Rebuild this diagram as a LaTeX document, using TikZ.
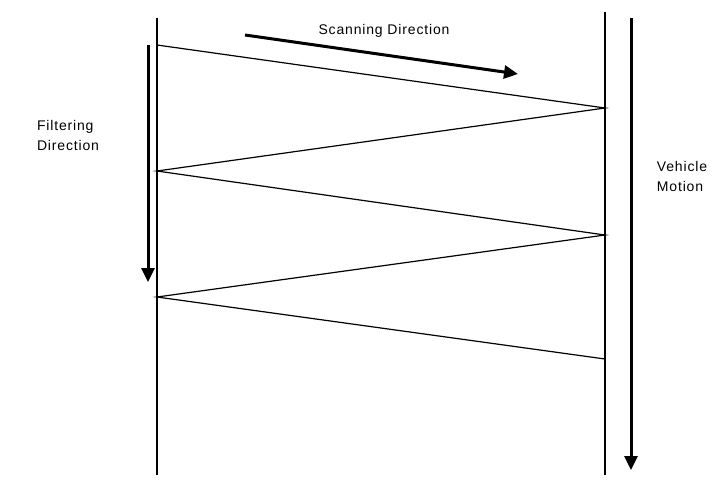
\documentclass[tikz,border=0pt]{standalone}
\usepackage{fontspec}
\setmainfont{Liberation Sans}[LetterSpace=6]
\usetikzlibrary{arrows.meta,positioning}

\begin{document}
\begin{tikzpicture}[
  x=1pt,y=-1pt,
  rail/.style={draw=black,line width=1.4pt},
  scanline/.style={draw=black,line width=1.2pt},
  motion/.style={-{Triangle[length=14pt,width=13pt]},line width=3pt},
  caption/.style={font=\fontsize{14}{20}\selectfont,align=left,inner sep=0pt}
]
\useasboundingbox (0,0) rectangle (722,496);

% the two edges of the swath
\coordinate (LT) at (157,18);
\coordinate (LB) at (157,475);
\coordinate (RT) at (605,12);
\coordinate (RB) at (605,475);
\draw[rail] (LT)--(LB);
\draw[rail] (RT)--(RB);

% scan lines
\coordinate (S0) at (157,45);
\coordinate (S1) at (605,108);
\coordinate (S2) at (157,171);
\coordinate (S3) at (605,235);
\coordinate (S4) at (157,297);
\coordinate (S5) at (605,359);
\draw[scanline] (S0)--(S1)--(S2)--(S3)--(S4)--(S5);

% scanning direction
\coordinate (SA) at (245,35);
\coordinate (SB) at (518,74);
\draw[motion] (SA)--(SB);
\node[caption,anchor=base] (scan) at (384,34) {Scanning Direction};

% filtering direction
\coordinate (FA) at (148,45);
\coordinate (FB) at (148,282);
\draw[motion] (FA)--(FB);
\node[caption] (filt) at (68,135) {Filtering\\Direction};

% vehicle motion
\coordinate (VA) at (631,18);
\coordinate (VB) at (631,470);
\draw[motion] (VA)--(VB);
\node[caption] (veh) at (682,176) {Vehicle\\Motion};
\end{tikzpicture}
\end{document}
